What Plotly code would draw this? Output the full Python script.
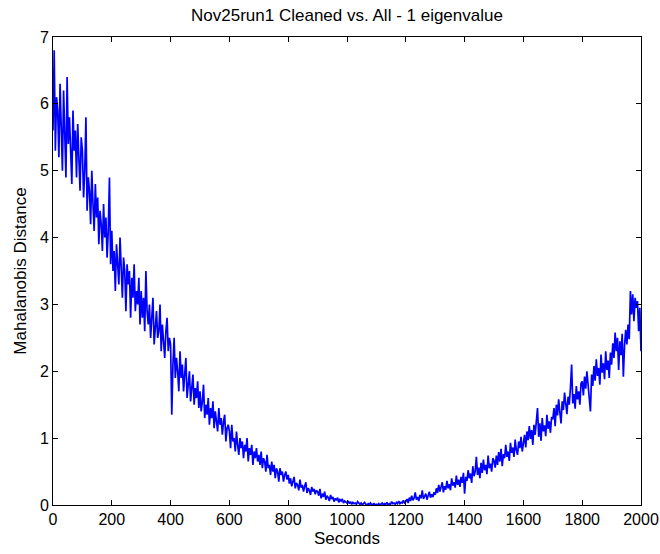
import plotly.graph_objects as go

# time step of the sampled trace (seconds)
step = 4

distance = [
    5.6, 6.8, 5.3, 6.1, 5.9, 5.2, 6.3, 5.5, 5.0, 6.2, 5.7, 4.9, 6.4, 5.4, 5.8, 5.1, 4.8, 5.9, 5.3, 5.6, 4.9, 5.7, 5.2, 4.7, 5.5,
    5.3, 4.6, 5.0, 5.8, 4.4, 4.9, 4.7, 4.2, 5.0, 4.5, 4.1, 4.8, 4.3, 4.6, 3.9, 4.4, 4.2, 3.8, 4.5, 4.0, 4.3, 3.7, 4.1, 4.9, 3.6,
    4.1, 3.5, 3.8, 3.2, 3.9, 3.6, 3.3, 4.0, 3.4, 3.1, 3.7, 3.5, 2.9, 3.6, 3.3, 3.5, 2.8, 3.4, 3.1, 3.6, 2.9, 3.2, 3.0, 3.4, 2.7,
    3.2, 2.8, 3.1, 2.6, 3.5, 2.9, 2.7, 3.0, 2.5, 2.8, 3.1, 2.4, 2.7, 2.9, 2.5, 2.6, 3.0, 2.3, 2.7, 2.5, 2.2, 2.6, 2.8, 2.3, 2.5,
    2.4, 1.35, 2.1, 2.5, 1.9, 2.2, 2.0, 1.7, 2.3, 1.9, 2.1, 1.7, 1.95, 2.2, 1.6, 1.85, 2.0, 1.55, 1.8, 1.95, 1.5, 1.75, 1.6, 1.85, 1.45,
    1.7, 1.4, 1.55, 1.8, 1.3, 1.5, 1.35, 1.6, 1.2, 1.45, 1.3, 1.55, 1.15, 1.4, 1.25, 1.1, 1.45, 1.2, 1.3, 1.05, 1.25, 1.35, 0.95, 1.15, 1.2,
    1.1, 0.85, 1.2, 0.95, 1.0, 0.8, 1.1, 0.9, 0.75, 1.0, 0.85, 0.95, 0.7, 0.9, 0.8, 1.0, 0.65, 0.85, 0.75, 0.9, 0.6, 0.8, 0.7, 0.85, 0.65,
    0.75, 0.6, 0.8, 0.55, 0.7, 0.65, 0.5, 0.75, 0.55, 0.6, 0.45, 0.65, 0.5, 0.6, 0.4, 0.55, 0.5, 0.35, 0.55, 0.45, 0.5, 0.35, 0.45, 0.5, 0.38,
    0.45, 0.32, 0.4, 0.28, 0.36, 0.42, 0.25, 0.33, 0.3, 0.22, 0.38, 0.26, 0.3, 0.2, 0.28, 0.34, 0.18, 0.25, 0.22, 0.15, 0.27, 0.2, 0.24, 0.16, 0.22,
    0.2, 0.14, 0.24, 0.1, 0.17, 0.12, 0.2, 0.08, 0.14, 0.11, 0.06, 0.15, 0.09, 0.12, 0.05, 0.1, 0.07, 0.11, 0.04, 0.08, 0.06, 0.09, 0.03, 0.06, 0.05,
    0.03, 0.06, 0.02, 0.05, 0.01, 0.04, 0.02, 0.03, 0.01, 0.05, 0.02, 0.01, 0.03, 0.0, 0.02, 0.04, 0.01, 0.0, 0.02, 0.01, 0.03, 0.0, 0.01, 0.02, 0.0,
    0.01, 0.0, 0.02, 0.0, 0.01, 0.03, 0.0, 0.02, 0.01, 0.04, 0.0, 0.02, 0.01, 0.05, 0.02, 0.03, 0.01, 0.04, 0.02, 0.06, 0.02, 0.04, 0.03, 0.07, 0.03,
    0.05, 0.09, 0.03, 0.11, 0.06, 0.14, 0.07, 0.1, 0.19, 0.08, 0.12, 0.06, 0.15, 0.1, 0.22, 0.09, 0.13, 0.17, 0.08, 0.14, 0.2, 0.11, 0.16, 0.12, 0.19,
    0.15, 0.25, 0.18, 0.3, 0.2, 0.27, 0.34, 0.19, 0.28, 0.23, 0.36, 0.25, 0.31, 0.22, 0.4, 0.29, 0.34, 0.26, 0.44, 0.3, 0.38, 0.27, 0.42, 0.33, 0.48,
    0.17, 0.42, 0.36, 0.52, 0.4, 0.47, 0.33, 0.58, 0.43, 0.5, 0.72, 0.45, 0.56, 0.4, 0.63, 0.48, 0.68, 0.52, 0.6, 0.46, 0.74, 0.55, 0.62, 0.5, 0.7,
    0.66, 0.56, 0.74, 0.6, 0.79, 0.65, 0.84, 0.58, 0.76, 0.7, 0.9, 0.72, 0.8, 0.66, 0.93, 0.78, 0.86, 0.72, 0.98, 0.82, 0.75, 0.95, 0.85, 1.02, 0.8,
    0.92, 1.05, 0.86, 1.1, 0.97, 1.18, 0.99, 1.12, 0.9, 1.2, 1.05, 1.28, 1.45, 1.02, 1.22, 0.96, 1.3, 1.1, 1.19, 1.03, 1.35, 1.14, 1.25, 1.08, 1.32,
    1.28, 1.45, 1.18, 1.5, 1.34, 1.58, 1.38, 1.22, 1.55, 1.42, 1.68, 1.48, 1.36, 1.62, 1.5, 1.75, 2.1, 1.52, 1.66, 1.44, 1.78, 1.58, 1.7, 1.5, 1.82,
    1.85, 1.64, 1.92, 1.74, 2.0, 1.8, 1.66, 1.4, 1.95, 1.78, 2.08, 1.86, 2.18, 1.93, 2.05, 1.8, 2.25, 1.98, 2.12, 1.88, 2.3, 2.02, 2.16, 1.9, 2.28,
    2.1, 2.42, 2.2, 2.58, 2.3, 2.5, 2.02, 2.45, 2.24, 2.56, 1.92, 2.38, 2.62, 2.4, 2.7, 2.48, 3.2, 2.85, 3.15, 2.75, 3.1, 2.95, 3.05, 2.6, 2.95,
    2.3,
]
seconds = [i * step for i in range(len(distance))]

x_ticks = [0, 200, 400, 600, 800, 1000, 1200, 1400, 1600, 1800, 2000]
y_ticks = [0, 1, 2, 3, 4, 5, 6, 7]

title_text = "Nov25run1 Cleaned vs. All - 1 eigenvalue"
x_label = "Seconds"
y_label = "Mahalanobis Distance"

FONT = "Liberation Sans, Arial, sans-serif"

fig = go.Figure()
fig.add_trace(go.Scatter(
    x=seconds, y=distance, mode="lines",
    line=dict(color="#0000FF", width=1.7),
    showlegend=False, hoverinfo="skip",
))

axis_common = dict(
    showline=True, linecolor="black", linewidth=1,
    mirror="allticks", ticks="inside", ticklen=5, tickwidth=1, tickcolor="black",
    showgrid=False, zeroline=False, automargin=False,
    tickfont=dict(family=FONT, size=16, color="black"),
)

fig.update_layout(
    width=660, height=554,
    margin=dict(l=53, r=19, t=37, b=49),
    paper_bgcolor="white", plot_bgcolor="white",
    font=dict(family=FONT, size=16, color="black"),
    title=dict(text=title_text, x=(53 + 641) / 2 / 660, xanchor="center",
               y=1 - 15 / 554, yanchor="middle", yref="container",
               font=dict(family=FONT, size=17, color="black")),
    xaxis=dict(range=[0, 2000], tickvals=x_ticks,
               title=dict(text=x_label, standoff=4,
                          font=dict(family=FONT, size=17, color="black")),
               **axis_common),
    yaxis=dict(range=[0, 7], tickvals=y_ticks,
               title=dict(text=y_label, standoff=8,
                          font=dict(family=FONT, size=17, color="black")),
               **axis_common),
)

fig.write_html("out.html")
